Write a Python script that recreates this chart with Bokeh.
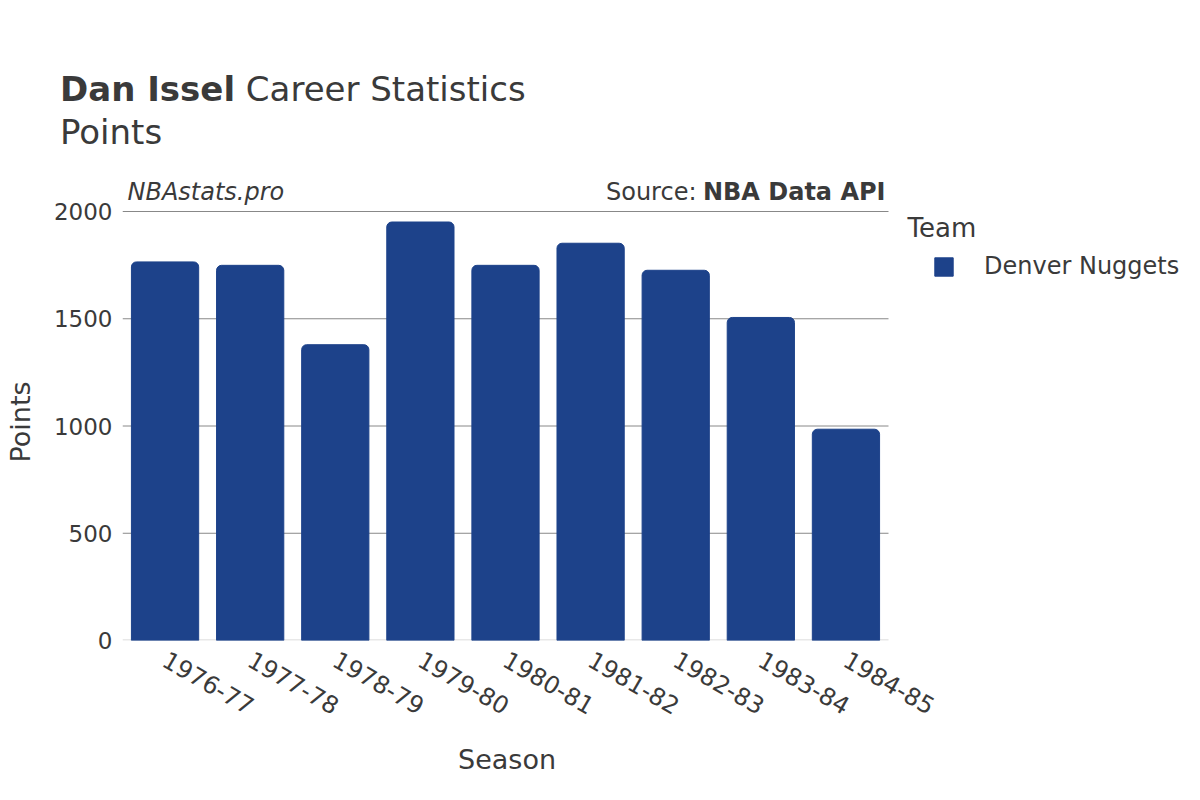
from bokeh.plotting import figure
from bokeh.models import Label, Legend, LegendItem, Range1d, FixedTicker, Div
from bokeh.layouts import column
from bokeh.embed import file_html
from bokeh.resources import INLINE
import math

seasons = ["1976-77", "1977-78", "1978-79", "1979-80", "1980-81",
           "1981-82", "1982-83", "1983-84", "1984-85"]
points = [1765, 1749, 1379, 1951, 1749, 1852, 1726, 1506, 985]
team = "Denver Nuggets"
y_ticks = [0, 500, 1000, 1500, 2000]
y_max = 2000
player = "Dan Issel"
title_rest = "Career Statistics"
stat_name = "Points"

TXT = "#3a3a3a"
FONT = "DejaVu Sans"
BAR = "#1d428a"
GRID = "#888888"

W, H = 1200, 800
HEAD_H = 160            # header strip height
LEFT = 122              # frame left
FRAME_BOTTOM = 640      # page y of value 0
PLOT_W = 766            # width spanned by the categories
PLOT_H = 429            # pixel height of 0..y_max
AX_FS = 27              # axis title font size (px)
NBSP_W = 651 / 2048     # DejaVu Sans space advance (em)
Y_LABEL_CENTER = 420    # page y of the y-axis title centre

# ---------------- header (HTML text) ----------------
head_html = (
    f'<div style="position:relative;width:{W}px;height:{HEAD_H}px;'
    f"font-family:'{FONT}';color:{TXT};\">"
    f'<div style="position:absolute;left:60px;top:72px;font-size:34px;'
    f'line-height:34px;white-space:nowrap;"><b>{player}</b> {title_rest}</div>'
    f'<div style="position:absolute;left:60px;top:115px;font-size:34px;'
    f'line-height:34px;white-space:nowrap;">{stat_name}</div></div>'
)
head = Div(text=head_html, width=W, height=HEAD_H, margin=0)

# ---------------- main chart ----------------
main_h = H - HEAD_H
BOTTOM = H - FRAME_BOTTOM
frame_h = main_h - BOTTOM
frame_w = W - LEFT
n = len(seasons)
cat_px = PLOT_W / n
x_idx = list(range(n))

p = figure(width=W, height=main_h, output_backend="svg", toolbar_location=None,
           x_range=Range1d(-0.5, -0.5 + frame_w / cat_px),
           y_range=Range1d(0, y_max * frame_h / PLOT_H),
           min_border_left=LEFT, min_border_right=0,
           min_border_top=0, min_border_bottom=BOTTOM, margin=0)
p.outline_line_color = None
p.grid.visible = False

# grid lines and zero line (under the bars)
p.segment(x0=-0.5, x1=n - 0.5, y0=y_ticks[1:], y1=y_ticks[1:],
          line_color=GRID, line_width=1)
p.segment(x0=-0.5, x1=n - 0.5, y0=y_ticks[0], y1=y_ticks[0],
          line_color="#e8e8e8", line_width=3)

bars = p.vbar(x=x_idx, top=points, width=0.79, color=BAR, line_color=BAR,
              border_radius=(5, 5, 0, 0))

xa = p.xaxis[0]
ya = p.yaxis[0]
xa.ticker = FixedTicker(ticks=x_idx)
xa.major_label_overrides = {i: s for i, s in enumerate(seasons)}
ya.ticker = FixedTicker(ticks=y_ticks)
for ax in (xa, ya):
    ax.axis_line_color = None
    ax.major_tick_line_color = None
    ax.minor_tick_line_color = None
    ax.major_label_text_font = FONT
    ax.major_label_text_color = TXT
    ax.axis_label_text_font = FONT
    ax.axis_label_text_color = TXT
    ax.axis_label_text_font_size = f"{AX_FS}px"
    ax.axis_label_text_font_style = "normal"
xa.major_label_text_font_size = "24px"
ya.major_label_text_font_size = "23px"
ya.major_label_standoff = 4
xa.major_label_standoff = 11
xa.major_label_orientation = -math.pi / 6

# axis titles are centred on the frame; pad them so they sit under the bars
x_shift = (LEFT + W) / 2 - (LEFT + PLOT_W / 2)
y_shift = Y_LABEL_CENTER - (HEAD_H + FRAME_BOTTOM) / 2
xa.axis_label = "Season" + "\u00a0" * round(2 * x_shift / (NBSP_W * AX_FS))
ya.axis_label = "Points" + "\u00a0" * round(2 * y_shift / (NBSP_W * AX_FS))
xa.axis_label_standoff = 18
ya.axis_label_standoff = 15


def lab(fig, text, x, y, size, style="normal", align="left"):
    fig.add_layout(Label(x=x, y=y, x_units="screen", y_units="screen", text=text,
                         text_font=FONT, text_font_size=f"{size}px",
                         text_font_style=style, text_color=TXT, text_align=align,
                         text_baseline="alphabetic"))


# y positions measured from the frame bottom
lab(p, "NBAstats.pro", 5, 449, 24, "italic")
lab(p, "NBA Data API", 763, 449, 24, "bold", "right")
lab(p, "Source:", 574, 449, 24, "normal", "right")
lab(p, "Team", 785, 413, 26)

legend = Legend(items=[LegendItem(label=team, renderers=[bars])],
                location=(810, 360), orientation="vertical",
                glyph_width=23, glyph_height=23, label_standoff=29,
                padding=0, margin=0, border_line_color=None,
                background_fill_alpha=0, label_text_font=FONT,
                label_text_font_size="24px", label_text_color=TXT,
                label_height=23)
p.add_layout(legend, "center")

open("out.html", "w").write(file_html(column(head, p, spacing=0), INLINE))
